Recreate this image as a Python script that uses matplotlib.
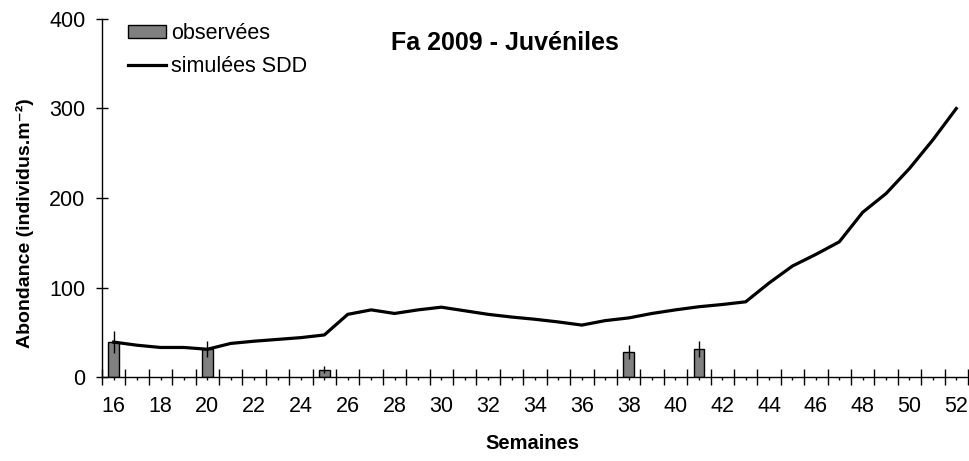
import matplotlib
matplotlib.use("Agg")
import matplotlib.pyplot as plt
from matplotlib.patches import Patch
from matplotlib.lines import Line2D

plt.rcParams['font.family'] = ['Liberation Sans', 'DejaVu Sans']

weeks = list(range(16, 53))
simulated = [39, 35.5, 33, 33, 31, 37.5, 40, 42, 44, 47, 70, 75, 71, 75, 78, 74,
             70, 67, 64.5, 61.5, 58, 63, 66, 71, 75, 78.5, 81, 84, 105, 124,
             137, 151, 184, 205, 233, 265, 300]
obs_weeks = [16, 20, 25, 38, 41]
obs_values = [39, 31, 8, 28, 31]
obs_err = [12, 9, 4, 8, 9]

title = "Fa 2009 - Juvéniles"
xlabel = "Semaines"
ylabel = "Abondance (individus.m⁻²)"

fig = plt.figure(figsize=(9.7, 4.61), dpi=100)
ax = fig.add_axes([102 / 970, 84 / 461, 866 / 970, 358 / 461])

idx = [w - weeks[0] for w in weeks]
obs_idx = [w - weeks[0] for w in obs_weeks]

ax.bar(obs_idx, obs_values, width=0.45, color='#808080', edgecolor='black',
       linewidth=1, zorder=2)
ax.plot(idx, simulated, color='black', linewidth=2.3, zorder=3)
ax.errorbar(obs_idx, obs_values, yerr=obs_err, fmt='none', ecolor='black',
            elinewidth=1, capsize=0, zorder=4)

ax.set_xlim(-0.5, len(weeks) - 0.5)
ax.set_ylim(0, 400)

for s in ['top', 'right']:
    ax.spines[s].set_visible(False)
for s in ['left', 'bottom']:
    ax.spines[s].set_linewidth(1)

# ticks between categories, labels at category centres
ax.set_xticks([i - 0.5 for i in range(len(weeks) + 1)])
ax.set_xticklabels([])
ax.set_xticks(idx, minor=True)
ax.set_xticklabels([str(w) if w % 2 == 0 else '' for w in weeks], minor=True)
ax.tick_params(axis='x', which='major', direction='inout', length=11, width=1)
ax.tick_params(axis='x', which='minor', direction='out', length=2, width=1,
               labelsize=15.5, pad=12)

ax.set_yticks([0, 100, 200, 300, 400])
ax.tick_params(axis='y', direction='inout', length=8, width=1, labelsize=15.5, pad=8)

ax.set_xlabel(xlabel, fontsize=14.5, fontweight='bold')
ax.xaxis.set_label_coords(532 / 866 - 102 / 866, -0.16)
ax.set_ylabel(ylabel, fontsize=14, fontweight='bold')
ax.yaxis.set_label_coords(-0.079, 0.43)

fig.text(505 / 970, 1 - 43 / 461, title, fontsize=18, fontweight='bold',
         ha='center', va='center')

handles = [Patch(facecolor='#808080', edgecolor='black', linewidth=1),
           Line2D([], [], color='black', linewidth=2.3)]
ax.legend(handles, ['observées', 'simulées SDD'], loc='upper left',
          bbox_to_anchor=(128 / 970, 1 - 23 / 461),
          bbox_transform=fig.transFigure, frameon=False, fontsize=15.5,
          handlelength=1.75, handleheight=0.55, handletextpad=0.25,
          labelspacing=0.55, borderpad=0, borderaxespad=0)

fig.savefig("out.png", dpi=100)
